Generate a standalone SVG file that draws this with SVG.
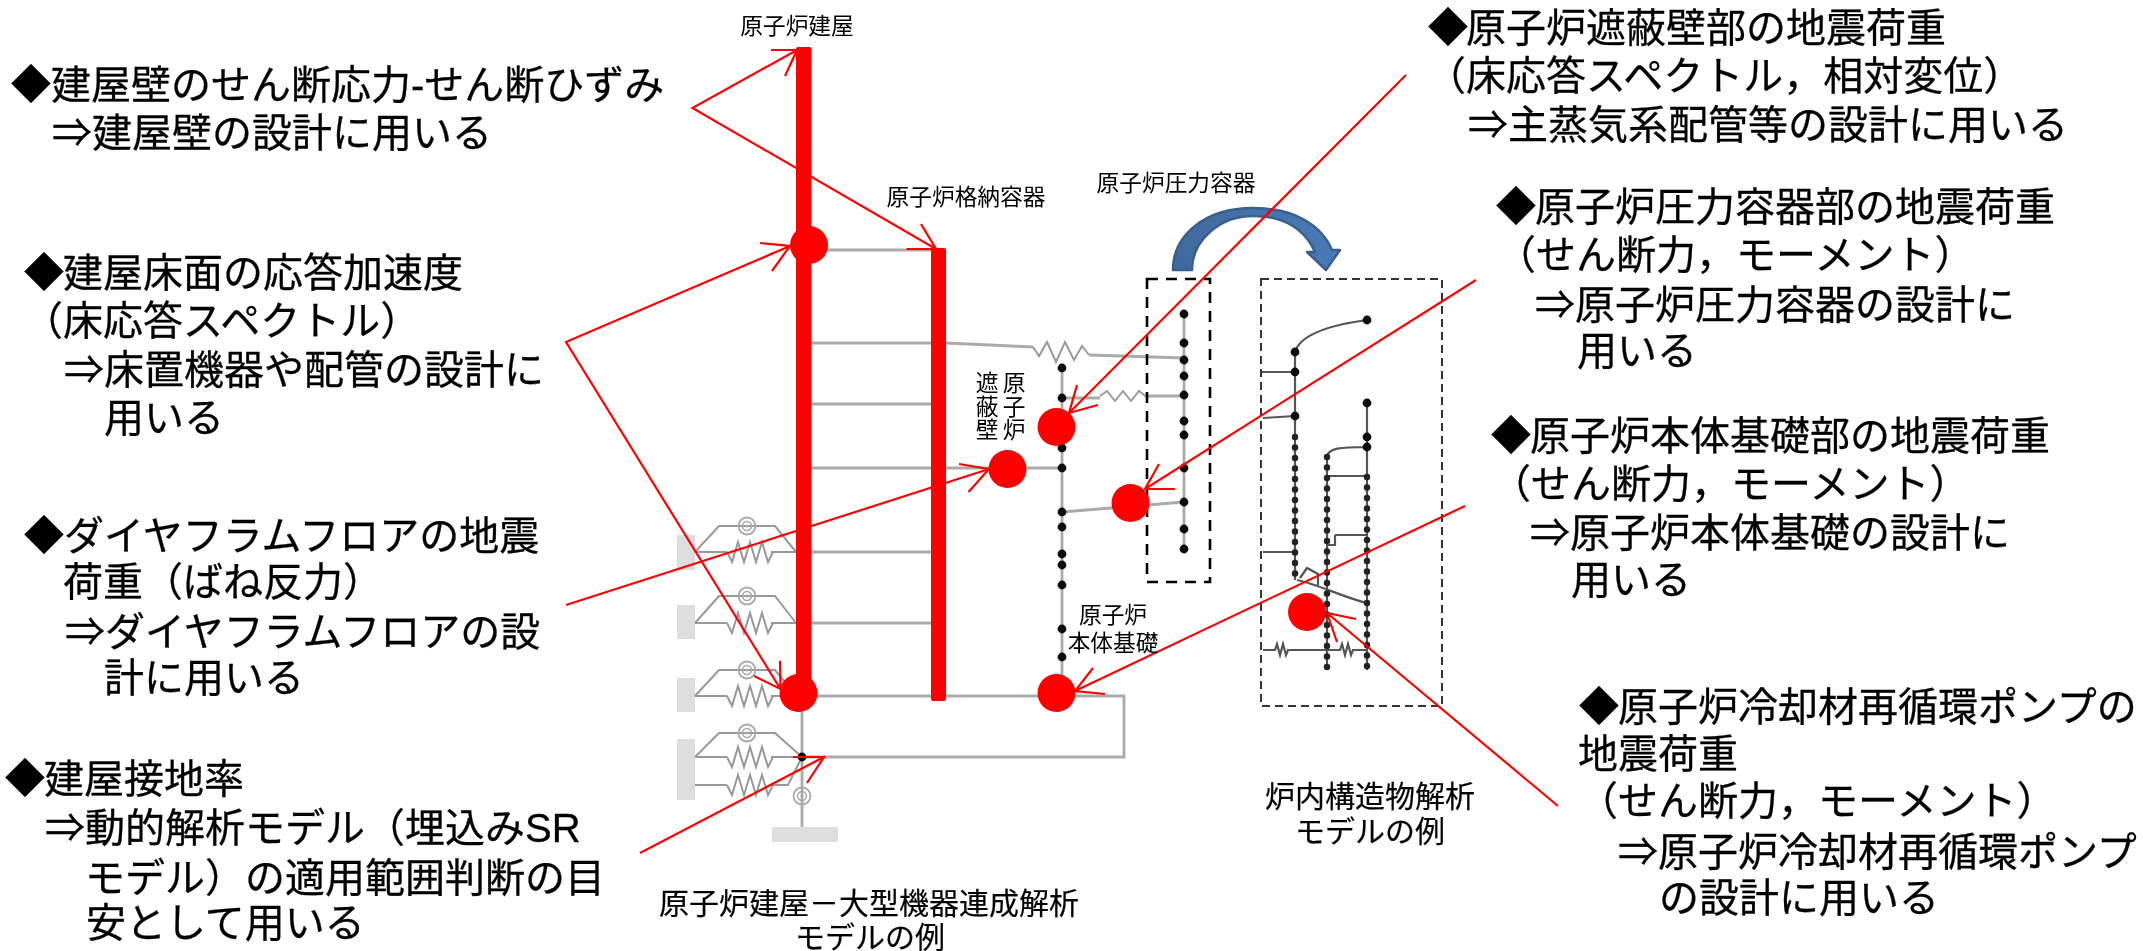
<svg xmlns="http://www.w3.org/2000/svg" width="2143" height="951" viewBox="0 0 2143 951">
<style>
text{font-family:"Liberation Sans","Noto Sans CJK JP",sans-serif;fill:#000}
.b{font-size:40px;stroke:#000;stroke-width:.3}
.s{font-size:22.7px;text-anchor:middle}
.m{font-size:30px;text-anchor:middle;stroke:#000;stroke-width:.2}
.g{fill:none;stroke:#aaa;stroke-width:2.8}
.gt{fill:none;stroke:#999;stroke-width:2}
.k{fill:none;stroke:#555;stroke-width:2.2}
.dc{fill:none;stroke:#222;stroke-width:6.5;stroke-dasharray:0 10.5;stroke-linecap:round}
.d{fill:#111}
.block{fill:#ddd}
.bar{fill:#f00}
.dot{fill:#f00}
.arr{fill:none;stroke:#f00;stroke-width:2.2}
</style>
<defs>
<filter id="soft" x="-5%" y="-5%" width="110%" height="110%"><feGaussianBlur stdDeviation="0.7"/></filter>
<linearGradient id="blue" x1="0" y1="0" x2="1" y2="0"><stop offset="0" stop-color="#3f6a9f"/><stop offset="1" stop-color="#4a7bb6"/></linearGradient>
<g id="spiral"><circle r="8.5" fill="none" stroke="#aaa" stroke-width="1.8"/><circle r="4.5" fill="none" stroke="#aaa" stroke-width="1.6"/><circle r="1.5" fill="#aaa"/></g>
<path id="zig" class="gt" d="M0 0l5 10 6-20 6 20 6-20 6 20 6-20 6 20 5-10"/>
<circle id="n" r="4.4" class="d"/>
</defs>
<g id="model" filter="url(#soft)">
<rect class="block" x="677" y="535" width="18" height="35"/>
<rect class="block" x="677" y="605" width="18" height="34"/>
<rect class="block" x="677" y="678" width="18" height="34"/>
<rect class="block" x="677" y="739" width="18" height="61"/>
<rect class="block" x="772" y="827" width="66" height="15"/>
<g>
<path class="g" d="M811 250H931M811 343H946L1033 347M1089 355L1184 358M811 404H931M811 468H1062M811 552H931M811 623H931M798 696H1124V757H802M802 693V827"/>
<path class="g" d="M1062 368V693M1184 314V549M1062 512L1184 502M1062 398H1100M1148 396H1184"/>
<path class="gt" d="M1033 347l6 9 8-14 9 20 9-20 9 18 8-14 7 9"/>
<path class="gt" d="M1100 396l7-5 8 10 8-10 8 10 8-10 9 7"/>
</g>
<g>
<path class="gt" d="M695 552H727M771 552H796M695 552L719 526H775L796 552"/><use href="#zig" x="727" y="552"/><use href="#spiral" x="747" y="526"/>
<path class="gt" d="M695 623H727M771 623H796M695 623L719 596H775L796 623"/><use href="#zig" x="727" y="623"/><use href="#spiral" x="747" y="596"/>
<path class="gt" d="M695 696H727M771 696H796M695 696L719 670H775L796 696"/><use href="#zig" x="727" y="696"/><use href="#spiral" x="747" y="670"/>
<path class="gt" d="M695 757H727M771 757H802M695 757L719 733H775L802 757M695 785H727M771 785H788L802 757"/><use href="#zig" x="727" y="757"/><use href="#zig" x="727" y="785"/><use href="#spiral" x="747" y="733"/><use href="#spiral" x="802" y="796"/>
</g>
<g>
<use href="#n" x="802" y="757"/>
<use href="#n" x="1062" y="368"/><use href="#n" x="1062" y="398"/><use href="#n" x="1062" y="448"/><use href="#n" x="1062" y="468"/><use href="#n" x="1062" y="512"/><use href="#n" x="1062" y="527"/><use href="#n" x="1062" y="554"/><use href="#n" x="1062" y="565"/><use href="#n" x="1062" y="585"/><use href="#n" x="1062" y="629"/><use href="#n" x="1062" y="657"/>
<use href="#n" x="1184" y="314"/><use href="#n" x="1184" y="343"/><use href="#n" x="1184" y="360"/><use href="#n" x="1184" y="376"/><use href="#n" x="1184" y="395"/><use href="#n" x="1184" y="421"/><use href="#n" x="1184" y="435"/><use href="#n" x="1184" y="468"/><use href="#n" x="1184" y="502"/><use href="#n" x="1184" y="529"/><use href="#n" x="1184" y="549"/>
</g>
<g>
<path class="k" d="M1295 352C1300 335 1330 325 1367 320M1295 352V580M1261 372H1295M1263 418L1295 416M1263 552H1293M1327 457C1328 448 1340 447 1367 447M1327 457V670M1367 403V670M1328 476H1367M1335 535H1367M1297 580C1320 585 1345 598 1367 603M1263 650H1275l2-6 3 11 3-11 3 11 2-5H1340l2-6 3 11 3-11 3 11 2-5H1367M1335 535V545H1328M1300 578L1307 568L1318 574V585"/>
<path class="dc" d="M1295 437V580M1327 457V670M1367 477V670"/>
<use href="#n" x="1295" y="352"/><use href="#n" x="1295" y="372"/><use href="#n" x="1295" y="416"/><use href="#n" x="1367" y="403"/><use href="#n" x="1367" y="437"/><use href="#n" x="1367" y="447"/><use href="#n" x="1367" y="320"/>
</g>
</g>
<g id="boxes" fill="none">
<rect x="1147" y="279" width="63" height="303" stroke="#000" stroke-width="2.6" stroke-dasharray="11 8"/>
<rect x="1261" y="279" width="181" height="427" stroke="#333" stroke-width="2" stroke-dasharray="8 5"/>
</g>
<g id="blue-arrow">
<path d="M1173 270C1173 235 1205 208 1253 208C1290 208 1320 222 1332 250H1340L1326 270L1307 252H1315C1305 230 1285 216 1253 216C1220 216 1192 240 1192 270Z" fill="url(#blue)" stroke="#3a5f8f" stroke-width="2.5" stroke-linejoin="round"/>
</g>
<g id="walls">
<rect class="bar" x="796" y="47" width="15.5" height="642" rx="2"/>
<rect class="bar" x="931" y="248" width="15" height="453" rx="2"/>
</g>
<g id="connectors" class="arr">
<path d="M797 50L692.500 108L936 249M771 50H797L785 76M921 224L936 249H906.500"/>
<path d="M790 246L566 342L780.500 689M760 243L790 246L772 271M780 661L780.500 689L754 676"/>
<path d="M566 605L989 469M959 464L989 469L968.500 492"/>
<path d="M640 853L824 757M793 757H824L807 783"/>
<path d="M1406 75L1069 413M1077 385L1069 413L1098 405"/>
<path d="M1476 280L1145 489M1159 464L1145 489L1175 489"/>
<path d="M1465 506L1075 691M1093 668L1075 691L1105 694"/>
<path d="M1558 806L1327 613M1356 619L1327 613L1337 642"/>
</g>
<g id="joints">
<circle class="dot" cx="809" cy="245" r="19"/>
<circle class="dot" cx="798.500" cy="693" r="19"/>
<circle class="dot" cx="1056.500" cy="693" r="19"/>
<circle class="dot" cx="1056.500" cy="427" r="19"/>
<circle class="dot" cx="1007.500" cy="469" r="19"/>
<circle class="dot" cx="1130.500" cy="503" r="19"/>
<circle class="dot" cx="1307" cy="612" r="19"/>
</g>
<g id="model-labels">
<text class="s" x="797" y="34">原子炉建屋</text>
<text class="s" x="966" y="205">原子炉格納容器</text>
<text class="s" x="1176" y="191">原子炉圧力容器</text>
<text class="s" x="1014" y="391">原</text><text class="s" x="1014" y="415">子</text><text class="s" x="1014" y="438">炉</text>
<text class="s" x="987" y="391">遮</text><text class="s" x="987" y="415">蔽</text><text class="s" x="987" y="438">壁</text>
<text class="s" x="1113" y="623">原子炉</text>
<text class="s" x="1113" y="651">本体基礎</text>
<text class="m" x="869" y="914">原子炉建屋－大型機器連成解析</text>
<text class="m" x="870" y="948">モデルの例</text>
<text class="m" x="1370" y="807">炉内構造物解析</text>
<text class="m" x="1370" y="842">モデルの例</text>
</g>
<g id="note-wall"><text class="b" x="11" y="99">◆<tspan x="51">建屋壁のせん断応力-せん断ひずみ</tspan></text><text class="b" x="52" y="147">⇒<tspan x="92">建屋壁の設計に用いる</tspan></text></g>
<g id="note-floor"><text class="b" x="24" y="287">◆<tspan x="63">建屋床面の応答加速度</tspan></text><text class="b" x="23" y="335">（床応答スペクトル）</text><text class="b" x="64" y="384">⇒<tspan x="104">床置機器や配管の設計に</tspan></text><text class="b" x="104" y="432">用いる</text></g>
<g id="note-diaphragm"><text class="b" x="24" y="550">◆<tspan x="64">ダイヤフラムフロアの地震</tspan></text><text class="b" x="63" y="596">荷重（ばね反力）</text><text class="b" x="65" y="646">⇒<tspan x="105">ダイヤフラムフロアの設</tspan></text><text class="b" x="104" y="692">計に用いる</text></g>
<g id="note-ground"><text class="b" x="5" y="793">◆<tspan x="44">建屋接地率</tspan></text><text class="b" x="45" y="842">⇒<tspan x="85">動的解析モデル（埋込みSR</tspan></text><text class="b" x="85" y="892">モデル）の適用範囲判断の目</text><text class="b" x="86" y="937">安として用いる</text></g>
<g id="note-shield"><text class="b" x="1428" y="42">◆<tspan x="1466">原子炉遮蔽壁部の地震荷重</tspan></text><text class="b" x="1426" y="90">（床応答スペクトル，相対変位）</text><text class="b" x="1468" y="139">⇒<tspan x="1508">主蒸気系配管等の設計に用いる</tspan></text></g>
<g id="note-vessel"><text class="b" x="1496" y="221">◆<tspan x="1535">原子炉圧力容器部の地震荷重</tspan></text><text class="b" x="1496" y="269">（せん断力，モーメント）</text><text class="b" x="1535" y="319">⇒<tspan x="1575">原子炉圧力容器の設計に</tspan></text><text class="b" x="1577" y="365">用いる</text></g>
<g id="note-base"><text class="b" x="1491" y="450">◆<tspan x="1530">原子炉本体基礎部の地震荷重</tspan></text><text class="b" x="1491" y="498">（せん断力，モーメント）</text><text class="b" x="1530" y="547">⇒<tspan x="1570">原子炉本体基礎の設計に</tspan></text><text class="b" x="1571" y="594">用いる</text></g>
<g id="note-pump"><text class="b" x="1579" y="721">◆<tspan x="1618">原子炉冷却材再循環ポンプの</tspan></text><text class="b" x="1578" y="768">地震荷重</text><text class="b" x="1578" y="815">（せん断力，モーメント）</text><text class="b" x="1618" y="866">⇒<tspan x="1658">原子炉冷却材再循環ポンプ</tspan></text><text class="b" x="1659" y="912">の設計に用いる</text></g>
</svg>
